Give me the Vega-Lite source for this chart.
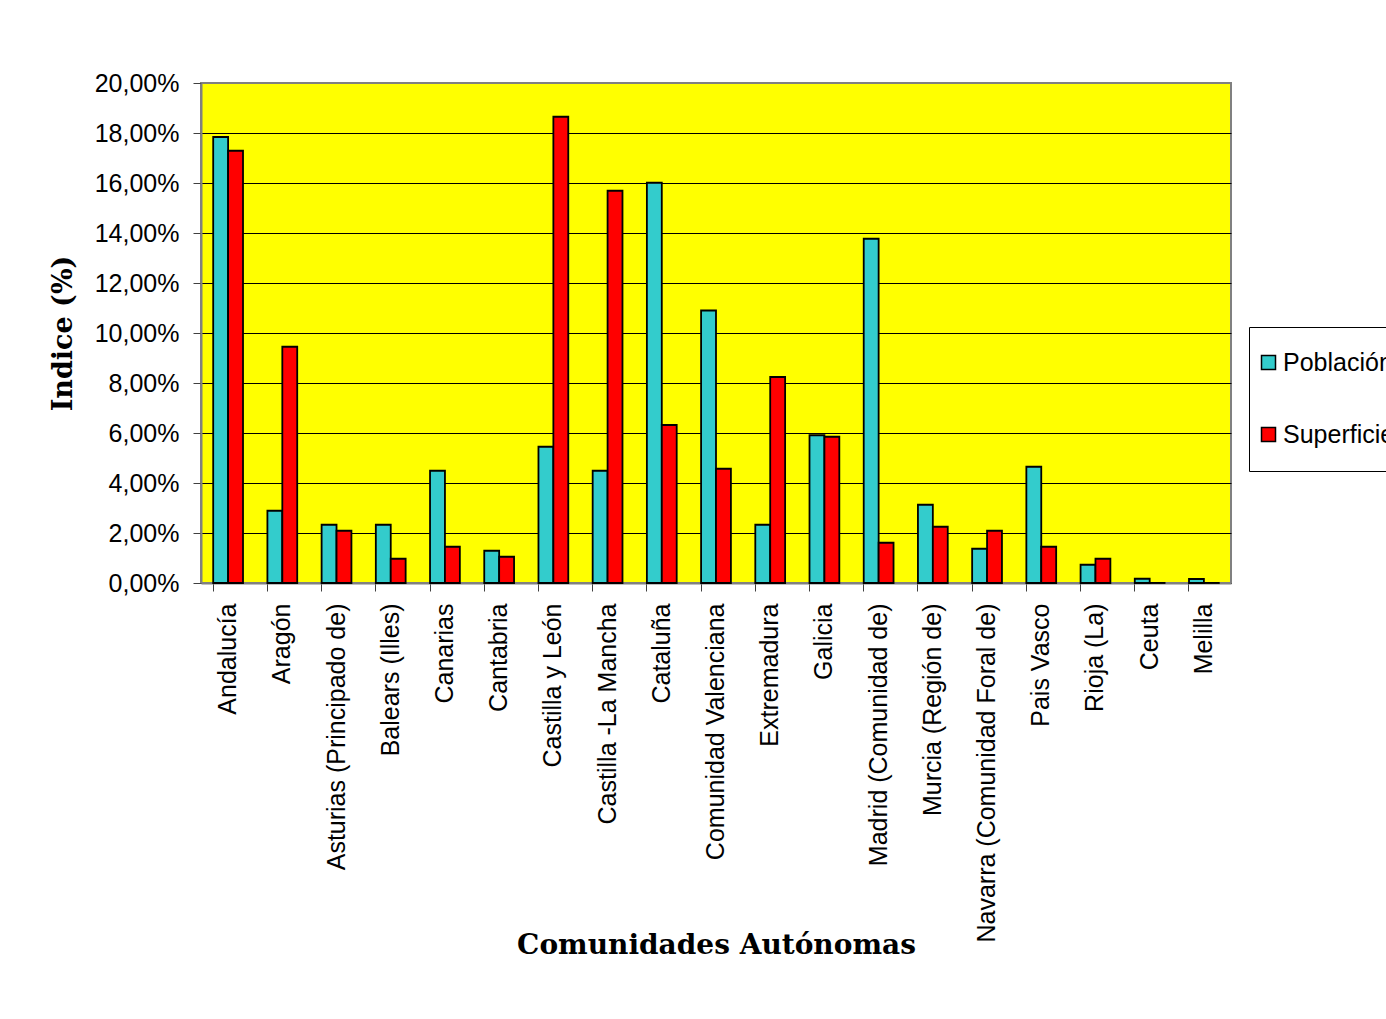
{
  "$schema": "https://vega.github.io/schema/vega-lite/v6.json",
  "autosize": {"type": "none"},
  "padding": {"left": 201, "top": 83, "right": 155, "bottom": 436},
  "width": 1030,
  "height": 500,
  "background": "white",
  "config": {
    "font": "Liberation Sans",
    "view": {"fill": "#FFFF00", "stroke": "#808080", "strokeWidth": 2}
  },
  "data": {
    "values": [
      {"Comunidad": "Andalucía", "Serie": "Población", "Valor": 17.84},
      {"Comunidad": "Andalucía", "Serie": "Superficie", "Valor": 17.29},
      {"Comunidad": "Aragón", "Serie": "Población", "Valor": 2.89},
      {"Comunidad": "Aragón", "Serie": "Superficie", "Valor": 9.45},
      {"Comunidad": "Asturias (Principado de)", "Serie": "Población", "Valor": 2.33},
      {"Comunidad": "Asturias (Principado de)", "Serie": "Superficie", "Valor": 2.09},
      {"Comunidad": "Balears (Illes)", "Serie": "Población", "Valor": 2.33},
      {"Comunidad": "Balears (Illes)", "Serie": "Superficie", "Valor": 0.97},
      {"Comunidad": "Canarias", "Serie": "Población", "Valor": 4.49},
      {"Comunidad": "Canarias", "Serie": "Superficie", "Valor": 1.45},
      {"Comunidad": "Cantabria", "Serie": "Población", "Valor": 1.29},
      {"Comunidad": "Cantabria", "Serie": "Superficie", "Valor": 1.05},
      {"Comunidad": "Castilla y León", "Serie": "Población", "Valor": 5.45},
      {"Comunidad": "Castilla y León", "Serie": "Superficie", "Valor": 18.65},
      {"Comunidad": "Castilla -La Mancha", "Serie": "Población", "Valor": 4.49},
      {"Comunidad": "Castilla -La Mancha", "Serie": "Superficie", "Valor": 15.69},
      {"Comunidad": "Cataluña", "Serie": "Población", "Valor": 16.01},
      {"Comunidad": "Cataluña", "Serie": "Superficie", "Valor": 6.32},
      {"Comunidad": "Comunidad Valenciana", "Serie": "Población", "Valor": 10.9},
      {"Comunidad": "Comunidad Valenciana", "Serie": "Superficie", "Valor": 4.57},
      {"Comunidad": "Extremadura", "Serie": "Población", "Valor": 2.33},
      {"Comunidad": "Extremadura", "Serie": "Superficie", "Valor": 8.24},
      {"Comunidad": "Galicia", "Serie": "Población", "Valor": 5.91},
      {"Comunidad": "Galicia", "Serie": "Superficie", "Valor": 5.85},
      {"Comunidad": "Madrid (Comunidad de)", "Serie": "Población", "Valor": 13.77},
      {"Comunidad": "Madrid (Comunidad de)", "Serie": "Superficie", "Valor": 1.61},
      {"Comunidad": "Murcia (Región de)", "Serie": "Población", "Valor": 3.13},
      {"Comunidad": "Murcia (Región de)", "Serie": "Superficie", "Valor": 2.25},
      {"Comunidad": "Navarra (Comunidad Foral de)", "Serie": "Población", "Valor": 1.37},
      {"Comunidad": "Navarra (Comunidad Foral de)", "Serie": "Superficie", "Valor": 2.09},
      {"Comunidad": "Pais Vasco", "Serie": "Población", "Valor": 4.65},
      {"Comunidad": "Pais Vasco", "Serie": "Superficie", "Valor": 1.45},
      {"Comunidad": "Rioja (La)", "Serie": "Población", "Valor": 0.73},
      {"Comunidad": "Rioja (La)", "Serie": "Superficie", "Valor": 0.97},
      {"Comunidad": "Ceuta", "Serie": "Población", "Valor": 0.17},
      {"Comunidad": "Ceuta", "Serie": "Superficie", "Valor": 0.004},
      {"Comunidad": "Melilla", "Serie": "Población", "Valor": 0.16},
      {"Comunidad": "Melilla", "Serie": "Superficie", "Valor": 0.003}
    ]
  },
  "mark": {"type": "bar", "stroke": "black", "strokeWidth": 1.8, "opacity": 1},
  "encoding": {
    "x": {
      "field": "Comunidad",
      "type": "nominal",
      "sort": null,
      "scale": {"paddingInner": 0.45, "paddingOuter": 0.225},
      "axis": {
        "title": "Comunidades Autónomas",
        "titleFont": "DejaVu Serif",
        "titleFontWeight": "bold",
        "titleFontSize": 28,
        "titleColor": "black",
        "titleY": 362,
        "titleBaseline": "middle",
        "labelAngle": -90,
        "labelFont": "Liberation Sans",
        "labelFontSize": 25,
        "labelColor": "black",
        "labelPadding": 12,
        "labelLimit": 0,
        "labelOverlap": false,
        "tickSize": 8,
        "tickColor": "#404040",
        "bandPosition": 0,
        "domainColor": "#808080",
        "domainWidth": 2,
        "grid": false
      }
    },
    "xOffset": {"field": "Serie", "type": "nominal", "sort": ["Población", "Superficie"]},
    "y": {
      "field": "Valor",
      "type": "quantitative",
      "scale": {"domain": [0, 20], "nice": false, "zero": true},
      "axis": {
        "title": "Indice (%)",
        "titleFont": "DejaVu Serif",
        "titleFontWeight": "bold",
        "titleFontSize": 27,
        "titleColor": "black",
        "titlePadding": 17,
        "values": [0, 2, 4, 6, 8, 10, 12, 14, 16, 18, 20],
        "labelExpr": "replace(format(datum.value, '.2f'), '.', ',') + '%'",
        "labelFont": "Liberation Sans",
        "labelFontSize": 25,
        "labelColor": "black",
        "labelPadding": 14,
        "tickSize": 8,
        "tickColor": "#404040",
        "domainColor": "#808080",
        "domainWidth": 2,
        "grid": true,
        "gridColor": {"condition": {"test": "datum.value == 20", "value": "#808080"}, "value": "black"},
        "gridWidth": 1,
        "gridOpacity": 1
      }
    },
    "color": {
      "field": "Serie",
      "type": "nominal",
      "sort": ["Población", "Superficie"],
      "scale": {"domain": ["Población", "Superficie"], "range": ["#33CCCC", "#FF0000"]},
      "legend": {
        "title": null,
        "orient": "none",
        "legendX": 1048,
        "legendY": 244,
        "strokeColor": "black",
        "fillColor": "white",
        "padding": 23,
        "symbolOffset": -16,
        "symbolType": "square",
        "symbolSize": 196,
        "symbolStrokeColor": "black",
        "symbolStrokeWidth": 1.5,
        "symbolOpacity": 1,
        "labelFont": "Liberation Sans",
        "labelFontSize": 25,
        "labelColor": "black",
        "labelOffset": 2,
        "rowPadding": 46,
        "labelLimit": 0
      }
    }
  }
}
